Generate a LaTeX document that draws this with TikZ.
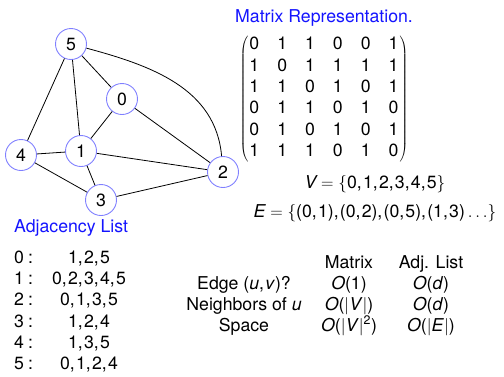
\documentclass[tikz,border=0pt]{standalone}
\usepackage{fontspec}
\setmainfont{TeX Gyre Heros}
\newcommand\cc{,\kern1.2pt}
\newcommand\gp{\hskip18pt}
\definecolor{vcol}{RGB}{128,128,255}
\definecolor{tcol}{RGB}{20,20,255}
\tikzset{
  vert/.style={circle, draw=vcol, line width=0.9pt, minimum size=31pt, inner sep=0pt, fill=white},
  edge/.style={line width=0.8pt, black},
  ttl/.style={text=tcol, anchor=base west, inner sep=0pt},
  lbl/.style={anchor=base, inner sep=0pt},
  lbw/.style={anchor=base west, inner sep=0pt}
}
\begin{document}
\begin{tikzpicture}[x=1pt,y=1pt,font=\fontsize{17.7}{21.4}\selectfont]
\useasboundingbox (0,0) rectangle (504,-376);
% graph
\node[vert] (n5) at (71,-44) {5};
\node[vert] (n0) at (122,-99) {0};
\node[vert] (n1) at (81,-151) {1};
\node[vert] (n4) at (21,-155) {4};
\node[vert] (n2) at (223,-172) {2};
\node[vert] (n3) at (101,-200) {3};
\draw[edge] (n5) -- (n0);
\draw[edge] (n5) -- (n1);
\draw[edge] (n5) -- (n4);
\draw[edge] (n5) to[out=-15,in=95] (n2);
\draw[edge] (n0) -- (n1);
\draw[edge] (n0) -- (n2);
\draw[edge] (n1) -- (n4);
\draw[edge] (n1) -- (n2);
\draw[edge] (n1) -- (n3);
\draw[edge] (n4) -- (n3);
\draw[edge] (n3) -- (n2);
% matrix
\node[ttl] (mt) at (235,-22) {Matrix Representation.};
\node[inner sep=0pt] (M) at (324,-99) {$\left(\begin{tabular}{@{\kern1pt}c@{\gp}c@{\gp}c@{\gp}c@{\gp}c@{\gp}c@{\kern1pt}}
0&1&1&0&0&1\\
1&0&1&1&1&1\\
1&1&0&1&0&1\\
0&1&1&0&1&0\\
0&1&0&1&0&1\\
1&1&1&0&1&0
\end{tabular}\right)$};
\node[lbl] (V) at (375,-188) {$\textit{V}=\{\mbox{0\cc1\cc2\cc3\cc4\cc5}\}$};
\node[lbl] (E) at (375,-217) {$\textit{E}=\{\mbox{(0\cc1)\cc(0\cc2)\cc(0\cc5)\cc(1\cc3)}\ldots\}$};
% adjacency list
\node[ttl] (at) at (14,-232) {Adjacency List};
\node[lbw] (k0) at (14,-263) {0\kern4pt:};
\node[lbw] (k1) at (14,-284) {1\kern4pt:};
\node[lbw] (k2) at (14,-305) {2\kern4pt:};
\node[lbw] (k3) at (14,-327) {3\kern4pt:};
\node[lbw] (k4) at (14,-348) {4\kern4pt:};
\node[lbw] (k5) at (14,-369) {5\kern4pt:};
\node[lbl] (l0) at (89,-263) {1\cc2\cc5};
\node[lbl] (l1) at (89,-284) {0\cc2\cc3\cc4\cc5};
\node[lbl] (l2) at (89,-305) {0\cc1\cc3\cc5};
\node[lbl] (l3) at (89,-327) {1\cc2\cc4};
\node[lbl] (l4) at (89,-348) {1\cc3\cc5};
\node[lbl] (l5) at (89,-369) {0\cc1\cc2\cc4};
% table
\node[lbl] (h1) at (349,-268) {Matrix};
\node[lbl] (h2) at (431,-268) {Adj. List};
\node[lbl] (r1) at (244,-289) {Edge (\textit{u}\cc\textit{v})?};
\node[lbl] (r2) at (244,-310) {Neighbors of \textit{u}};
\node[lbl] (r3) at (244,-331) {Space};
\node[lbl] (a1) at (349,-289) {\textit{O}(1)};
\node[lbl] (a2) at (349,-310) {\textit{O}($|$\textit{V}$|$)};
\node[lbl] (a3) at (349,-331) {\textit{O}($|$\textit{V}$|$\textsuperscript{2})};
\node[lbl] (b1) at (431,-289) {\textit{O}(\textit{d})};
\node[lbl] (b2) at (431,-310) {\textit{O}(\textit{d})};
\node[lbl] (b3) at (431,-331) {\textit{O}($|$\textit{E}$|$)};
\end{tikzpicture}
\end{document}
